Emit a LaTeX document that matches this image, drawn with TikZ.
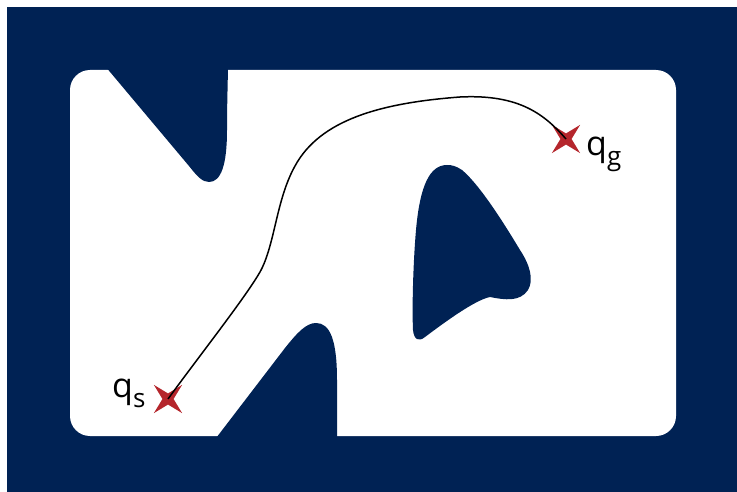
\documentclass[tikz,border=0pt]{standalone}
\usepackage{fontspec}
\setmainfont{Open Sans}
\usetikzlibrary{shapes.geometric}
\definecolor{navy}{RGB}{0,34,84}
\definecolor{starred}{RGB}{181,38,44}
\begin{document}
\begin{tikzpicture}[x=1pt,y=-1pt,
  obst/.style={fill=navy},
  goalstar/.style={star, star points=4, star point ratio=3.6, minimum size=40pt, inner sep=0pt, fill=starred, rotate=45},
  lbl/.style={inner sep=0pt, anchor=base west, font=\fontsize{34}{34}\selectfont},
  routeline/.style={line width=1.5pt, black}]
\useasboundingbox (0,0) rectangle (737,492);
% background
\fill[navy] (7,7) rectangle (737,492);
\fill[white, rounded corners=20pt] (70,70) rectangle (676,436);
% top-left obstacle
\fill[obst] (100,60) -- (189,166) .. controls (197,176) and (202,182) .. (209,182)
  .. controls (221,182) and (227,165) .. (227,130) .. controls (227,100) and (228,80) .. (228,60) -- cycle;
% bottom obstacle
\fill[obst] (210,446) -- (285,348) .. controls (297,333) and (306,323) .. (316,323)
  .. controls (330,323) and (337,340) .. (337,380) -- (337,446) -- cycle;
% middle blob
\fill[obst] (447,165) .. controls (430,165) and (420,185) .. (416,230)
  .. controls (413,265) and (412,310) .. (413,330)
  .. controls (414,340) and (419,342) .. (425,337)
  .. controls (445,322) and (475,300) .. (490,297)
  .. controls (505,300) and (520,302) .. (528,290)
  .. controls (534,280) and (530,265) .. (520,250)
  .. controls (505,225) and (480,185) .. (462,170)
  .. controls (456,166) and (452,165) .. (447,165) -- cycle;
% start and goal
\node[goalstar] (qs) at (168,399) {};
\node[goalstar] (qg) at (566,139) {};
\node[lbl] (qslbl) at (112,397) {q\raisebox{-10pt}{\fontsize{26}{26}\selectfont s}};
\node[lbl] (qglbl) at (586,156) {q\raisebox{-10pt}{\fontsize{26}{26}\selectfont g}};
% path
\draw[routeline] (qs.center) .. controls (200,355) and (245,298) .. (260,272)
  .. controls (275,245) and (276,200) .. (295,166)
  .. controls (320,120) and (380,103) .. (460,97)
  .. controls (520,94) and (545,115) .. (qg.center);
\end{tikzpicture}
\end{document}
